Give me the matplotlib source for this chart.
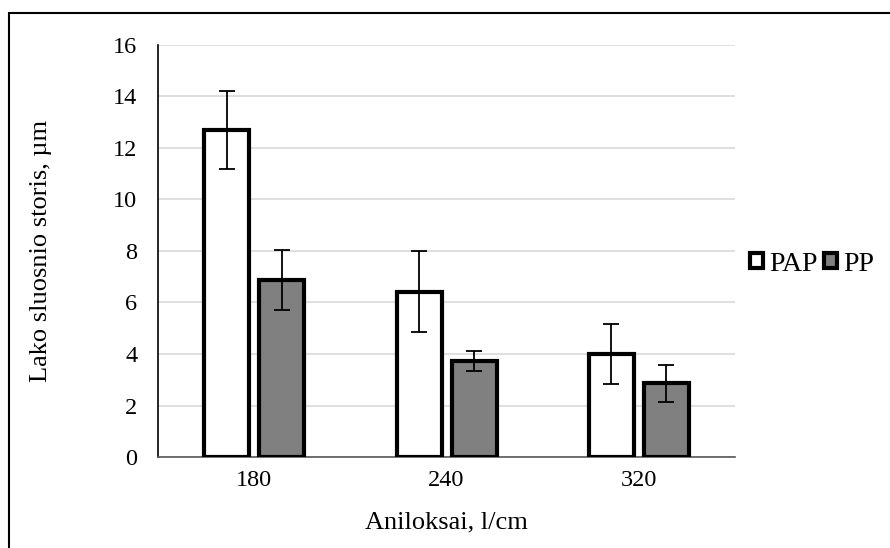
import numpy as np
import matplotlib.pyplot as plt
from matplotlib.patches import Rectangle

plt.rcParams['font.family'] = ['Liberation Serif', 'DejaVu Serif']

categories = ['180', '240', '320']
pap = [12.7, 6.42, 4.0]
pap_err = [1.52, 1.58, 1.17]
pp = [6.87, 3.73, 2.86]
pp_err = [1.18, 0.38, 0.72]

fig = plt.figure(figsize=(8.9, 5.48), dpi=100)
ax = fig.add_axes([0.1775, 0.166, 0.6485, 0.752])

x = np.arange(len(categories))
w = 0.234
off = 0.143
ax.bar(x - off, pap, w, color='white', edgecolor='black', linewidth=3, label='PAP', zorder=3)
ax.bar(x + off, pp, w, color='#808080', edgecolor='black', linewidth=3, label='PP', zorder=3)
ax.errorbar(x - off, pap, yerr=pap_err, fmt='none', ecolor='black', elinewidth=1.3, capsize=6, capthick=1.3, zorder=4)
ax.errorbar(x + off, pp, yerr=pp_err, fmt='none', ecolor='black', elinewidth=1.3, capsize=6, capthick=1.3, zorder=4)

ax.set_xlim(-0.5, 2.5)
ax.set_ylim(0, 16)
ax.set_yticks(range(0, 17, 2))
ax.set_xticks(x)
ax.set_xticklabels(categories)
ax.yaxis.grid(True, color='#d9d9d9', linewidth=1.2, zorder=0)
ax.set_axisbelow(True)
for s in ['top', 'right']:
    ax.spines[s].set_visible(False)
ax.spines['left'].set_color('black')
ax.spines['left'].set_linewidth(1.2)
ax.spines['bottom'].set_color('#595959')
ax.spines['bottom'].set_linewidth(1.2)
ax.tick_params(length=0, labelsize=17.5, pad=9)
ax.tick_params(axis='y', pad=15)

ax.set_xlabel('Aniloksai, l/cm', fontsize=19, labelpad=15)
ax.set_ylabel('Lako sluosnio storis, µm', fontsize=19, labelpad=44)

fig.legend(loc='center left', bbox_to_anchor=(0.843, 0.518), frameon=False, ncol=2,
           fontsize=20, handlelength=0.47, handleheight=0.47, handletextpad=0.2,
           columnspacing=0.25, borderaxespad=0, borderpad=0)

fig.add_artist(Rectangle((9 / 890, -0.01), 1.0, 1 - 13 / 548 + 0.01, transform=fig.transFigure,
                         fill=False, edgecolor='black', linewidth=1.5))

fig.savefig('out.png', dpi=100)
